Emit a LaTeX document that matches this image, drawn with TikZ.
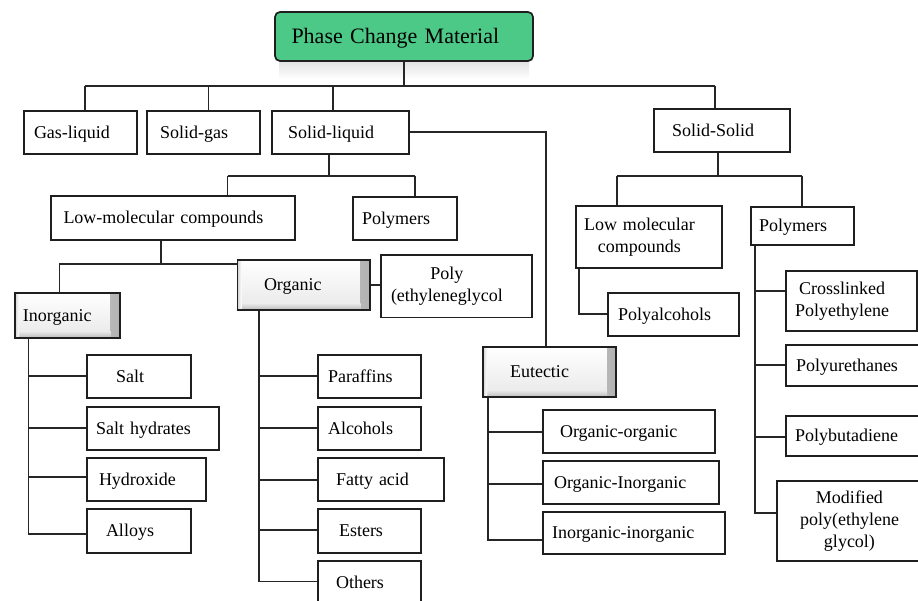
\documentclass[tikz,border=0pt]{standalone}
\usepackage{fontspec}
\setmainfont{Liberation Serif}
\usetikzlibrary{calc}
\definecolor{pcmgreen}{HTML}{4CC987}
\tikzset{
  box/.style={draw=black!88, line width=1.5pt, fill=white, inner sep=0pt,
    font=\fontsize{18}{22}\selectfont},
  one/.style={text height=13pt, text depth=1.1pt},
  shbox/.style={line width=1.8pt, top color=white, bottom color=gray!18,
    path picture={
      \shade[left color=gray!12, right color=gray!60]
        ([xshift=-9pt]path picture bounding box.north east) rectangle (path picture bounding box.south east);
      \shade[top color=gray!20, bottom color=gray!55]
        (path picture bounding box.south west) rectangle ([xshift=-9pt,yshift=6pt]path picture bounding box.south east);
      \shade[left color=gray!35, right color=white]
        (path picture bounding box.south west) rectangle ([xshift=4pt,yshift=-1pt]path picture bounding box.north west);
    }},
  pcmbox/.style={fill=pcmgreen, rounded corners=5pt, line width=1.7pt,
    font=\fontsize{22}{26}\selectfont, text height=15.6pt, text depth=1pt},
  conn/.style={draw=black!85, line width=1.2pt},
}
% name, x1, x2, y1, y2, left pad, options, text
\newcommand\mkbox[8]{%
  \pgfmathsetmacro\bxcx{(#2+#3)/2}\pgfmathsetmacro\bxcy{-(#4+#5)/2}%
  \pgfmathsetmacro\bxw{#3-#2}\pgfmathsetmacro\bxh{#5-#4}\pgfmathsetmacro\bxtw{#3-#2-2*#6}%
  \node[box, minimum width=\bxw pt, minimum height=\bxh pt, text width=\bxtw pt, align=left, #7]
    (#1) at (\bxcx,\bxcy) {#8};}
\newcommand\twoline[1]{\begin{tabular}{@{}c@{}}#1\end{tabular}}
\begin{document}
\begin{tikzpicture}[x=1pt, y=1pt]
\useasboundingbox (0,0) rectangle (918,-601);
\clip (0,0) rectangle (918,-601);
\fill[white] (0,0) rectangle (918,-601);

% reflection under the title
\shade[top color=black!11, bottom color=white] (279,-62) rectangle (529,-79);

% boxes
\mkbox{pcm}{275}{533}{12}{61}{16.5}{pcmbox}{Phase Change Material}
\mkbox{gl}{24}{137}{111}{154}{10}{one}{Gas-liquid}
\mkbox{sg}{147}{260}{111}{154}{13}{one}{Solid-gas}
\mkbox{sl}{272}{409}{111}{154}{16}{one}{Solid-liquid}
\mkbox{ss}{654}{790}{109}{152}{18}{one}{Solid-Solid}
\mkbox{lmc}{51}{295}{196}{240}{12.5}{one}{Low-molecular compounds}
\mkbox{pol}{353}{457}{197}{240}{9}{one}{Polymers}
\mkbox{inorg}{15}{119.6}{293}{338}{8}{one,shbox}{Inorganic}
\mkbox{org}{237.5}{369.6}{260}{310}{26.5}{one,shbox}{Organic}
\mkbox{peg}{381}{532}{255}{317.5}{10}{}{\twoline{Poly\\(ethyleneglycol}}
\mkbox{salt}{87}{191}{355}{398}{29}{one}{Salt}
\mkbox{sh}{87}{219}{407}{450}{9}{one}{Salt hydrates}
\mkbox{hyd}{87}{206}{458}{501}{12}{one}{Hydroxide}
\mkbox{alloy}{87}{191}{509}{553}{19}{one}{Alloys}
\mkbox{par}{318}{421}{355}{398}{10}{one}{Paraffins}
\mkbox{alc}{318}{421}{407}{450}{10}{one}{Alcohols}
\mkbox{fat}{318}{444}{458}{501}{18}{one}{Fatty acid}
\mkbox{est}{318}{421}{509}{553}{21}{one}{Esters}
\mkbox{oth}{318}{421}{561}{604}{18}{one}{Others}
\mkbox{eut}{483}{616}{347}{397}{27}{one,shbox}{Eutectic}
\mkbox{oo}{543}{715}{410}{453}{17}{one}{Organic-organic}
\mkbox{oi}{543}{719}{461}{504}{11}{one}{Organic-Inorganic}
\mkbox{ii}{543}{725}{512}{554}{9}{one}{Inorganic-inorganic}
\mkbox{lmcr}{576}{722}{206}{268}{8}{}{\twoline{Low molecular\\compounds}}
\mkbox{polr}{751}{854}{207}{245}{8}{one}{Polymers}
\mkbox{palc}{608}{739}{293}{336}{10}{one}{Polyalcohols}
\mkbox{cp}{786}{917}{271}{331}{9}{}{\twoline{Crosslinked\\Polyethylene}}
\mkbox{pu}{786}{925}{345}{386}{10}{one}{Polyurethanes}
\mkbox{pb}{786}{925}{416}{456}{9}{one}{Polybutadiene}
\mkbox{mod}{777}{925}{481}{561}{23}{}{\twoline{Modified\\poly(ethylene\\glycol)}}

% bend points
\coordinate (busL) at (85,-86);
\coordinate (busR) at (715,-86);
\coordinate (d2) at (208.5,-86);
\coordinate (d3) at (333,-86);
\coordinate (slb) at (329,-176);
\coordinate (slL) at (227.5,-176);
\coordinate (slR) at (415,-176);
\coordinate (eutc) at (546,-132);
\coordinate (lb) at (161,-264);
\coordinate (ib) at (59.6,-264);
\coordinate (i1) at (28.6,-376);
\coordinate (i2) at (28.6,-428);
\coordinate (i3) at (28.6,-477);
\coordinate (i4) at (28.6,-534);
\coordinate (o1) at (259,-376);
\coordinate (o2) at (259,-428);
\coordinate (o3) at (259,-480);
\coordinate (o4) at (259,-530);
\coordinate (o5) at (259,-581.7);
\coordinate (e1) at (488,-432);
\coordinate (e2) at (488,-484);
\coordinate (e3) at (488,-540);
\coordinate (ssb) at (718,-176);
\coordinate (ssL) at (617,-176);
\coordinate (ssR) at (802,-176);
\coordinate (lv) at (579,-314);
\coordinate (p1) at (755,-291);
\coordinate (p2) at (755,-365);
\coordinate (p3) at (755,-437);
\coordinate (p4) at (755,-513);

% connectors
\draw[conn] (pcm.south) -- (pcm.south |- busL);
\draw[conn] (busL) -- (busR);
\draw[conn] (busL) -- (busL |- gl.north);
\draw[conn] (d2) -- (d2 |- sg.north);
\draw[conn] (d3) -- (d3 |- sl.north);
\draw[conn] (busR) -- (busR |- ss.north);

\draw[conn] (slb |- sl.south) -- (slb);
\draw[conn] (slL) -- (slR);
\draw[conn] (slL) -- (slL |- lmc.north);
\draw[conn] (slR) -- (slR |- pol.north);
\draw[conn] (sl.east |- eutc) -- (eutc) -- (eutc |- eut.north);

\draw[conn] (lb |- lmc.south) -- (lb);
\draw[conn] (inorg.north -| ib) -- (ib) -- (ib -| org.west);
\draw[conn] (org.east) -- (org.east -| peg.west);

\draw[conn] (inorg.south -| i4) -- (i4) -- (i4 -| alloy.west);
\draw[conn] (i1) -- (i1 -| salt.west);
\draw[conn] (i2) -- (i2 -| sh.west);
\draw[conn] (i3) -- (i3 -| hyd.west);

\draw[conn] (org.south -| o5) -- (o5) -- (o5 -| oth.west);
\draw[conn] (o1) -- (o1 -| par.west);
\draw[conn] (o2) -- (o2 -| alc.west);
\draw[conn] (o3) -- (o3 -| fat.west);
\draw[conn] (o4) -- (o4 -| est.west);

\draw[conn] (eut.south -| e3) -- (e3) -- (e3 -| ii.west);
\draw[conn] (e1) -- (e1 -| oo.west);
\draw[conn] (e2) -- (e2 -| oi.west);

\draw[conn] (ss.south -| ssb) -- (ssb);
\draw[conn] (ssL) -- (ssR);
\draw[conn] (ssL) -- (ssL |- lmcr.north);
\draw[conn] (ssR) -- (ssR |- polr.north);
\draw[conn] (lmcr.south -| lv) -- (lv) -- (lv -| palc.west);

\draw[conn] (polr.south -| p4) -- (p4) -- (p4 -| mod.west);
\draw[conn] (p1) -- (p1 -| cp.west);
\draw[conn] (p2) -- (p2 -| pu.west);
\draw[conn] (p3) -- (p3 -| pb.west);
\end{tikzpicture}
\end{document}
